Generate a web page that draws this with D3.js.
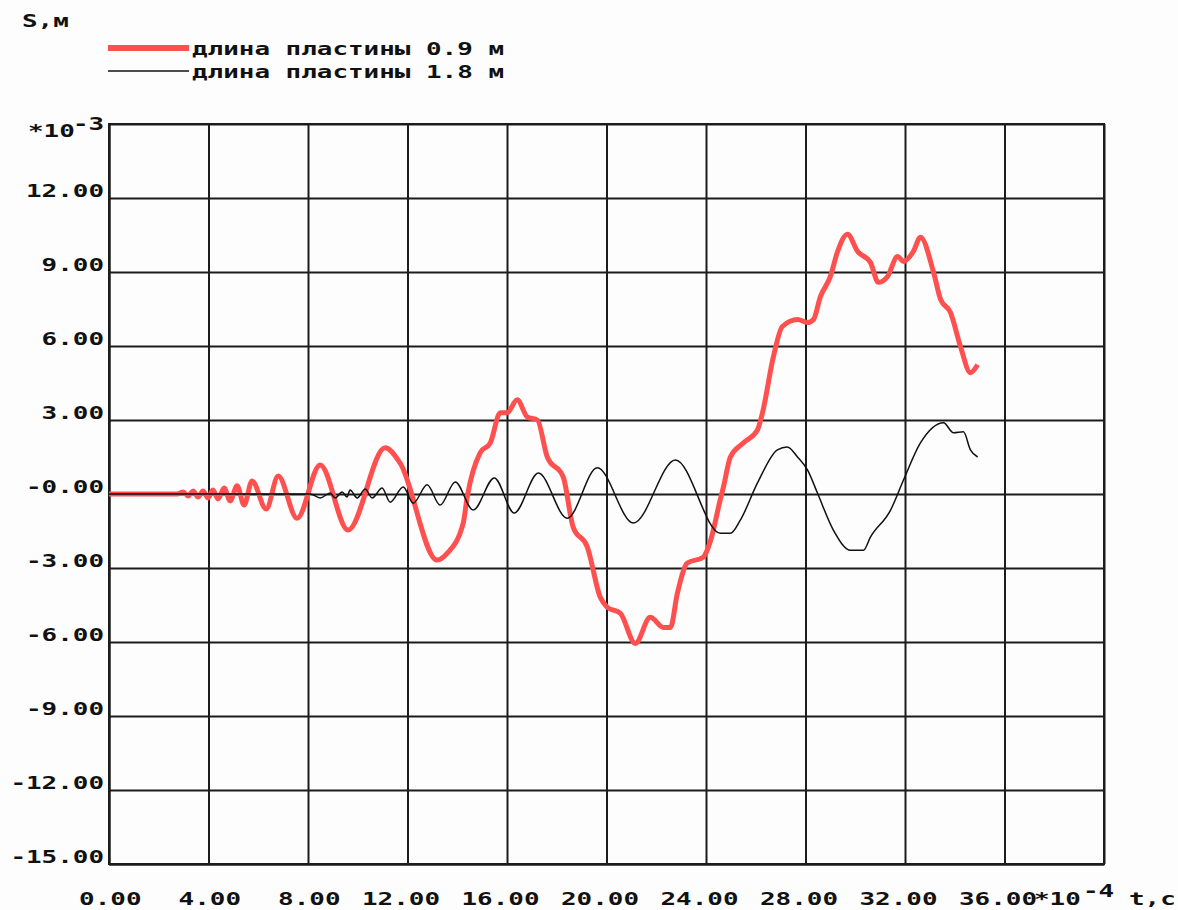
<!DOCTYPE html>
<html>
<head>
<meta charset="utf-8">
<script src="https://cdn.jsdelivr.net/npm/d3@7"></script>
<style>
  html, body { margin: 0; padding: 0; background: #fdfdfd; }
  svg text { font-family: "DejaVu Sans Mono", "Liberation Mono", monospace; font-weight: bold; font-size: 18px; fill: #111; }
</style>
</head>
<body>
<svg id="chart" width="1178" height="910"></svg>
<script>
// Displacement S (×10^-3 m) versus time t (×10^-4 s) for two plate lengths
const xTicks = [0, 4, 8, 12, 16, 20, 24, 28, 32, 36, 40];
const yTicks = [-15, -12, -9, -6, -3, 0, 3, 6, 9, 12, 15];
const legendLabels = ["длина пластины 0.9 м", "длина пластины 1.8 м"];

// plate 0.9 m: [t, S]
const plate09 = [
  [0,0],[2.74,0],[2.98,0.08],[3.18,-0.08],[3.38,0.12],[3.58,-0.12],[3.78,0.12],[3.98,-0.16],
  [4.18,0.16],[4.38,-0.2],[4.63,0.24],[4.87,-0.28],[5.15,0.33],[5.43,-0.45],[5.75,0.53],
  [6.32,-0.61],[6.8,0.73],[7.56,-0.98],[8.49,1.18],[9.61,-1.46],[11.1,1.87],[11.7,1.26],
  [13.19,-2.68],[13.6,-2.4],[14.24,-1.18],[14.4,-0.12],[14.92,1.67],[15.33,2.07],[15.73,3.29],
  [16.0,3.29],[16.41,3.82],[16.81,3.13],[17.22,3.0],[17.62,1.5],[18.26,0.69],[18.66,-1.34],
  [19.23,-2.15],[19.75,-4.19],[20.03,-4.59],[20.56,-4.84],[21.16,-6.06],[21.76,-5.0],
  [22.29,-5.41],[22.57,-5.41],[22.85,-4.02],[23.25,-2.8],[23.89,-2.56],[24.18,-1.9],
  [24.58,-0.2],[24.7,0.28],[24.98,1.5],[25.5,2.07],[26.07,2.6],[26.27,3.29],[26.71,5.57],
  [27.07,6.79],[27.68,7.07],[28.08,6.95],[28.32,7.07],[28.6,8.0],[29.0,8.82],[29.28,9.8],
  [29.69,10.53],[30.09,9.84],[30.61,9.39],[30.93,8.58],[31.3,8.82],[31.7,9.63],[31.94,9.43],
  [32.34,9.84],[32.62,10.41],[33.15,8.98],[33.43,7.89],[33.83,7.36],[34.23,5.98],
  [34.63,4.92],[34.92,5.24]
];

// plate 1.8 m: [t, S]
const plate18 = [
  [0,0],[8.09,0],[8.49,-0.16],[8.89,0.04],[9.09,-0.16],[9.37,0.08],[9.57,-0.12],[9.69,0.16],
  [9.98,-0.16],[10.3,0.2],[10.58,-0.16],[10.98,0.24],[11.3,-0.33],[11.83,0.28],[12.23,-0.37],
  [12.79,0.37],[13.31,-0.45],[13.92,0.49],[14.64,-0.65],[15.49,0.65],[16.29,-0.77],[17.26,0.85],
  [18.42,-0.98],[19.63,1.06],[21.08,-1.18],[22.77,1.38],[24.58,-1.59],[24.98,-1.59],[25.38,-1.06],
  [26.07,0.45],[26.87,1.79],[27.27,1.91],[27.68,1.5],[28.08,0.98],[28.48,0.04],[29.12,-1.46],
  [29.81,-2.28],[30.33,-2.28],[30.61,-1.75],[31.42,-0.65],[31.94,0.57],[32.62,2.07],[33.55,2.89],
  [33.95,2.48],[34.35,2.52],[34.63,1.79],[34.92,1.5]
];

const CH = 15.6; // monospaced character advance
const svg = d3.select("#chart");
const margin = { left: 109, top: 124, right: 74, bottom: 46 };
const W = 1178 - margin.left - margin.right;
const H = 910 - margin.top - margin.bottom;

const x = d3.scaleLinear().domain([0, 40]).range([0, W]);
const y = d3.scaleLinear().domain([-15, 15]).range([H, 0]);

const g = svg.append("g").attr("transform", `translate(${margin.left},${margin.top})`);

function mono(sel) {
  sel.each(function () {
    const t = d3.select(this);
    const s = t.text();
    if (s) t.attr("textLength", s.length * CH).attr("lengthAdjust", "spacingAndGlyphs");
  });
}

// grid + vertical axis
const yAxis = g.append("g")
  .call(d3.axisLeft(y).tickValues(yTicks).tickSize(-W).tickSizeOuter(0).tickPadding(-5)
    .tickFormat(d => d === 15 ? "" : (d === 0 ? "-0.00" : d.toFixed(2))));
yAxis.selectAll(".tick text").attr("x", -5).attr("dy", 0).attr("y", -2).attr("text-anchor", "end").call(mono);

const xAxis = g.append("g").attr("transform", `translate(0,${H})`)
  .call(d3.axisBottom(x).tickValues(xTicks).tickSize(-H).tickSizeOuter(0)
    .tickFormat(d => d === 40 ? "" : d.toFixed(2)));
xAxis.selectAll(".tick text").attr("x", 32).attr("y", 41).attr("dy", 0).attr("text-anchor", "end").call(mono);

svg.selectAll(".tick line").attr("stroke", "#1c1c1c").attr("stroke-width", 2);
svg.selectAll(".domain").attr("stroke", "#1c1c1c").attr("stroke-width", 2);
g.append("rect").attr("x", 0).attr("y", 0).attr("width", W).attr("height", H)
  .attr("fill", "none").attr("stroke", "#1c1c1c").attr("stroke-width", 2);

// curves
const line = d3.line().x(d => x(d[0])).y(d => y(d[1])).curve(d3.curveMonotoneX);
g.append("path").datum(plate09).attr("d", line)
  .attr("fill", "none").attr("stroke", "#ff5050").attr("stroke-width", 5).attr("stroke-linejoin", "round");
g.append("path").datum(plate18).attr("d", line)
  .attr("fill", "none").attr("stroke", "#111").attr("stroke-width", 1.5).attr("stroke-linejoin", "round");

// axis units and multipliers
function label(txt, px, py) {
  return svg.append("text").attr("x", px).attr("y", py).text(txt).call(mono);
}
label("*10", 28, 137);
label("-3", 73, 130);
label("*10", 1034, 905);
label("-4", 1083, 897);
label("t,c", 1129, 905);
label("S,м", 22, 27);

// legend
const legendColors = ["#ff5050", "#111"];
const legendWidths = [6, 1.5];
legendLabels.forEach((txt, i) => {
  const ly = 48 + i * 23;
  svg.append("line").attr("x1", 108).attr("x2", 189).attr("y1", ly).attr("y2", ly)
    .attr("stroke", legendColors[i]).attr("stroke-width", legendWidths[i]);
  label(txt, 192, ly + 7);
});
</script>
</body>
</html>
